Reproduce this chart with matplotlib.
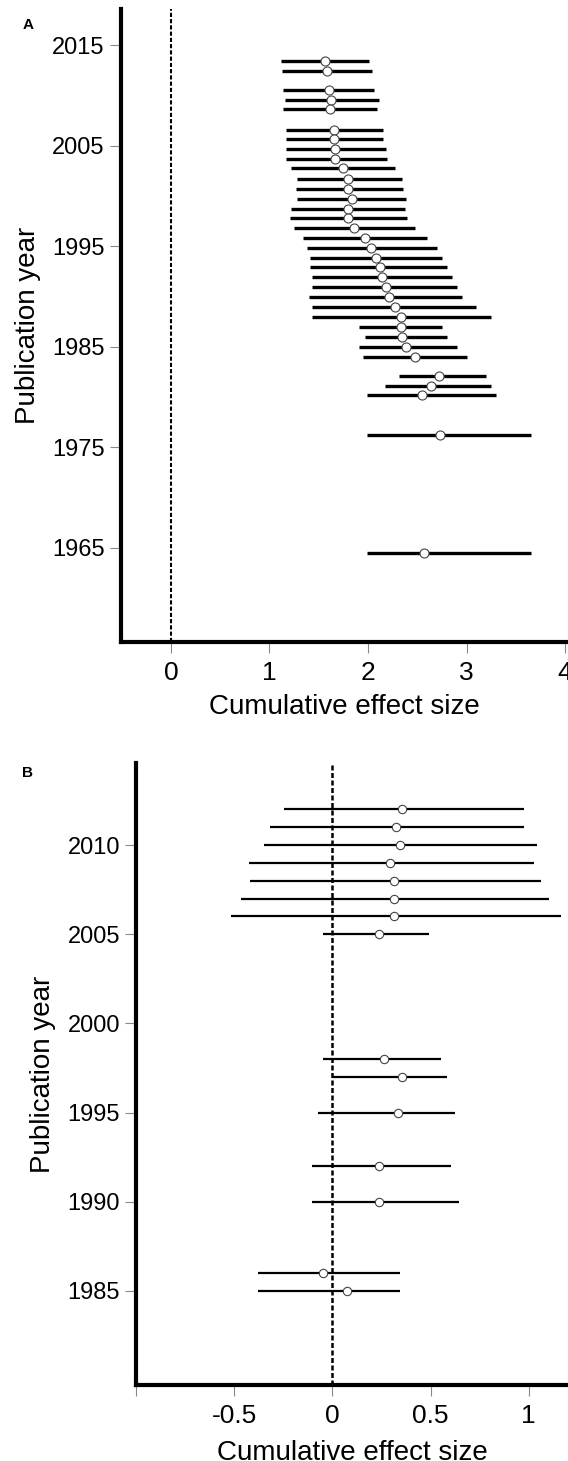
import numpy as np
import matplotlib
matplotlib.use('Agg')
import matplotlib.pyplot as plt

plt.rcParams['font.family'] = ['Liberation Sans', 'DejaVu Sans']

# panel A: cumulative effect size by publication year
year_a = [2013.4, 2012.4, 2010.5, 2009.5, 2008.6, 2006.6, 2005.7, 2004.7, 2003.7,
          2002.8, 2001.7, 2000.7, 1999.7, 1998.7, 1997.8, 1996.8, 1995.8, 1994.8,
          1993.8, 1992.9, 1991.9, 1990.9, 1989.9, 1988.9, 1987.9, 1987.0, 1986.0,
          1985.0, 1984.0, 1982.1, 1981.1, 1980.2, 1976.2, 1964.5]
mean_a = [1.56, 1.58, 1.60, 1.62, 1.61, 1.66, 1.66, 1.665, 1.665,
          1.75, 1.80, 1.80, 1.84, 1.80, 1.80, 1.86, 1.97, 2.03,
          2.08, 2.12, 2.14, 2.18, 2.21, 2.27, 2.33, 2.33, 2.35,
          2.39, 2.48, 2.72, 2.64, 2.55, 2.73, 2.57]
lo_a = [1.12, 1.13, 1.14, 1.16, 1.14, 1.17, 1.17, 1.17, 1.17,
        1.22, 1.28, 1.27, 1.28, 1.22, 1.21, 1.25, 1.34, 1.38,
        1.41, 1.41, 1.43, 1.43, 1.40, 1.43, 1.43, 1.91, 1.97,
        1.91, 1.95, 2.31, 2.17, 1.99, 1.99, 1.99]
hi_a = [2.01, 2.04, 2.06, 2.11, 2.09, 2.15, 2.15, 2.18, 2.19,
        2.27, 2.35, 2.36, 2.39, 2.38, 2.40, 2.48, 2.60, 2.70,
        2.75, 2.80, 2.85, 2.90, 2.95, 3.10, 3.25, 2.75, 2.80,
        2.90, 3.00, 3.20, 3.25, 3.30, 3.65, 3.65]

# panel B
year_b = [2012, 2011, 2010, 2009, 2008, 2007, 2006, 2005,
          1998, 1997, 1995, 1992, 1990, 1986, 1985]
mean_b = [0.354, 0.325, 0.344, 0.294, 0.312, 0.312, 0.312, 0.240,
          0.262, 0.354, 0.333, 0.235, 0.235, -0.048, 0.072]
lo_b = [-0.245, -0.316, -0.347, -0.427, -0.418, -0.465, -0.517, -0.046,
        -0.046, 0.0, -0.075, -0.106, -0.106, -0.378, -0.378]
hi_b = [0.976, 0.976, 1.041, 1.027, 1.065, 1.104, 1.163, 0.491,
        0.551, 0.583, 0.624, 0.602, 0.643, 0.344, 0.344]

W, H = 568, 1461
fig = plt.figure(figsize=(W / 100, H / 100), dpi=100)

axA = fig.add_axes([120.7 / W, 1 - 642 / H, (W - 120.7) / W, (642 - 9) / H])
axB = fig.add_axes([136 / W, 1 - 1385 / H, (W - 136) / W, (1385 - 763) / H])


def style(ax):
    for s in ['top', 'right']:
        ax.spines[s].set_visible(False)
    for s in ['left', 'bottom']:
        ax.spines[s].set_linewidth(3)
    ax.tick_params(axis='both', direction='out', color='#888888', width=0.8, length=8)
    ax.tick_params(axis='y', labelsize=17, pad=3.5)
    ax.tick_params(axis='x', labelsize=19, pad=6)


# panel A
axA.axvline(0, color='k', ls=(0, (2, 1)), lw=1.5, zorder=1)
axA.hlines(year_a, lo_a, hi_a, color='k', lw=2.4, zorder=2)
axA.plot(mean_a, year_a, 'o', mfc='white', mec='#444444', ms=6.5, mew=0.8, zorder=3)
axA.set_xlim(-0.51, 4.03)
axA.set_ylim(1955.6, 2018.6)
axA.set_xticks([0, 1, 2, 3, 4])
axA.set_yticks([1965, 1975, 1985, 1995, 2005, 2015])
style(axA)
axA.set_xlabel('Cumulative effect size', fontsize=20, labelpad=6)
axA.set_ylabel('Publication year', fontsize=20, labelpad=8)

# panel B
axB.axvline(0, color='k', ls=(0, (2, 1)), lw=1.8, zorder=1)
axB.hlines(year_b, lo_b, hi_b, color='k', lw=1.6, zorder=2)
axB.plot(mean_b, year_b, 'o', mfc='white', mec='#444444', ms=6, mew=0.8, zorder=3)
axB.set_xlim(-1, 1.2)
axB.set_ylim(1979.73, 2014.6)
axB.set_xticks([-1, -0.5, 0, 0.5, 1])
axB.set_xticklabels(['', '-0.5', '0', '0.5', '1'])
axB.set_yticks([1985, 1990, 1995, 2000, 2005, 2010])
style(axB)
axB.set_xlabel('Cumulative effect size', fontsize=20, labelpad=8)
axB.set_ylabel('Publication year', fontsize=20, labelpad=8)

fig.text(28 / W, 1 - 25 / H, 'A', fontsize=11, fontweight='bold', ha='center', va='center')
fig.text(28 / W, 1 - 773 / H, 'B', fontsize=11, fontweight='bold', ha='center', va='center')

fig.savefig('out.png', dpi=100)
